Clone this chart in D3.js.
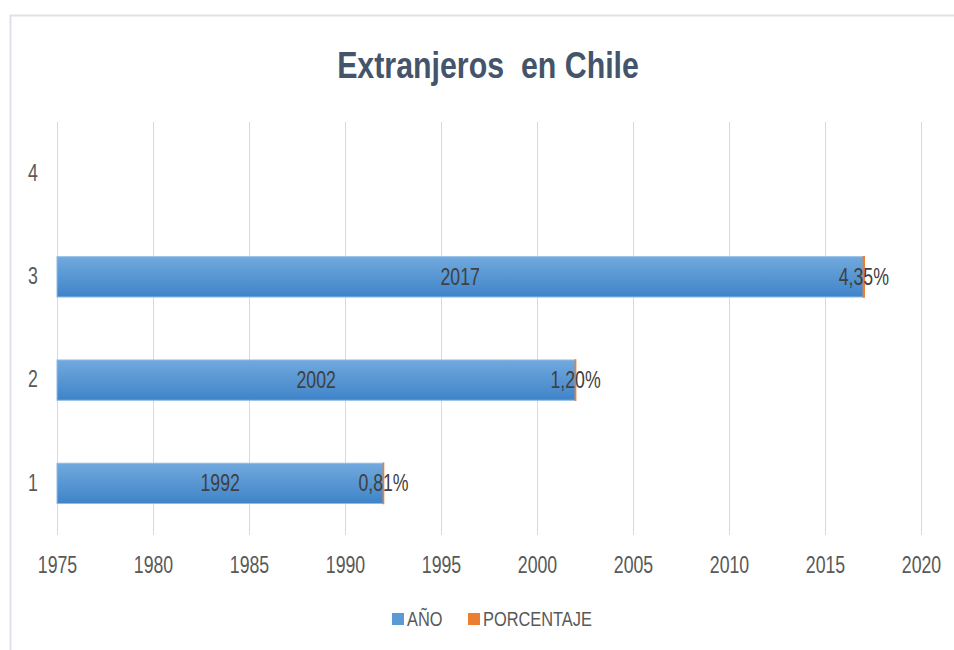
<!DOCTYPE html>
<html>
<head>
<meta charset="utf-8">
<script src="https://cdn.jsdelivr.net/npm/d3@7"></script>
<style>
  body { margin: 0; background: #fff; }
  text { font-family: 'Liberation Sans', Arial, sans-serif; }
</style>
</head>
<body>
<script>
// data
var categories = ['1', '2', '3', '4']
var anio = [1992, 2002, 2017, null]
var porcentaje = [0.0081, 0.012, 0.0435, null]
var seriesNames = ['AÑO', 'PORCENTAJE']
var seriesColors = ['#5b9bd5', '#ed7d31']
var xStart = 1975, xEnd = 2020

var W = 954, H = 650
var margin = { top: 122, right: 33, bottom: 115, left: 57 }
var squeeze = 0.77   // the original font is a condensed one

var svg = d3.select('body').append('svg')
    .attr('width', W)
    .attr('height', H)

// gradient for the blue bars
var grad = svg.append('defs').append('linearGradient')
    .attr('id', 'blueGrad')
    .attr('x1', 0).attr('y1', 0).attr('x2', 0).attr('y2', 1)
grad.append('stop').attr('offset', '0%').attr('stop-color', '#71a9de')
grad.append('stop').attr('offset', '100%').attr('stop-color', '#3f84c8')

// helper: condensed text placed at (x, y)
function condText(sel, x, y, sx) {
    return sel.append('text')
        .attr('transform', `translate(${x}, ${y}) scale(${sx}, 1)`)
}

// chart frame
svg.append('rect')
    .attr('x', 10.5).attr('y', 15.5)
    .attr('width', W + 20).attr('height', H + 20)
    .attr('fill', 'none')
    .attr('stroke', '#dde1e9')
    .attr('stroke-width', 2)

// title
condText(svg, 488, 78, 0.82)
    .attr('text-anchor', 'middle')
    .attr('font-size', 37)
    .attr('font-weight', 'bold')
    .attr('fill', '#44546a')
    .attr('xml:space', 'preserve')
    .text('Extranjeros  en Chile')

// scales
var x = d3.scaleLinear()
    .domain([xStart, xEnd])
    .range([margin.left, W - margin.right])

var y = d3.scaleBand()
    .domain(categories.slice().reverse())
    .range([margin.top, H - margin.bottom])
    .paddingInner(0.61)
    .paddingOuter(0.305)

// vertical gridlines
svg.append('g')
    .selectAll('line')
    .data(x.ticks(9))
    .enter()
    .append('line')
    .attr('x1', d => x(d) + 0.5)
    .attr('x2', d => x(d) + 0.5)
    .attr('y1', margin.top)
    .attr('y2', H - margin.bottom)
    .attr('stroke', '#d9d9d9')
    .attr('stroke-width', 1)

// x axis labels
var xAxis = svg.append('g')
    .attr('transform', `translate(0, ${H - margin.bottom})`)
    .call(d3.axisBottom(x).ticks(9).tickFormat(d3.format('d')).tickSize(0))
xAxis.select('.domain').remove()
xAxis.selectAll('text')
    .attr('y', 0)
    .attr('dy', 0)
    .attr('transform', `translate(0, 38) scale(${squeeze}, 1)`)
    .attr('font-size', 23)
    .attr('font-family', null)
    .attr('fill', '#595959')

// y axis labels
var yAxis = svg.append('g')
    .attr('transform', `translate(33, 0)`)
    .call(d3.axisLeft(y).tickSize(0).tickPadding(0))
yAxis.select('.domain').remove()
yAxis.selectAll('text')
    .attr('x', 0)
    .attr('text-anchor', 'middle')
    .attr('transform', `scale(${squeeze}, 1)`)
    .attr('font-size', 23)
    .attr('font-family', null)
    .attr('fill', '#595959')

// stacked rows
var rows = categories.map((c, i) => ({ cat: c, anio: anio[i], pct: porcentaje[i] }))
    .filter(d => d.anio != null)

var pctFmt = d3.formatLocale({ decimal: ',', thousands: '.', grouping: [3], currency: ['$', ''] }).format('.2%')

var bars = svg.append('g')

bars.selectAll('rect.anio')
    .data(rows)
    .enter()
    .append('rect')
    .attr('class', 'anio')
    .attr('x', x(xStart))
    .attr('y', d => y(d.cat))
    .attr('width', d => x(d.anio) - x(xStart))
    .attr('height', y.bandwidth())
    .attr('fill', 'url(#blueGrad)')
    .attr('stroke', '#8dbbe6')
    .attr('stroke-width', 1)

bars.selectAll('rect.pct')
    .data(rows)
    .enter()
    .append('rect')
    .attr('class', 'pct')
    .attr('x', d => x(d.anio))
    .attr('y', d => y(d.cat))
    .attr('width', d => x(d.anio + d.pct) - x(d.anio))
    .attr('height', y.bandwidth())
    .attr('fill', seriesColors[1])
    .attr('stroke', seriesColors[1])
    .attr('stroke-width', 1.5)

// data labels
rows.forEach(d => {
    var cy = y(d.cat) + y.bandwidth() / 2 + 8
    condText(bars, (x(xStart) + x(d.anio)) / 2, cy, squeeze)
        .attr('text-anchor', 'middle')
        .attr('font-size', 23)
        .attr('fill', '#404040')
        .text(d.anio)
    condText(bars, x(d.anio + d.pct / 2), cy, squeeze)
        .attr('text-anchor', 'middle')
        .attr('font-size', 23)
        .attr('fill', '#404040')
        .text(pctFmt(d.pct))
})

// legend
var legendX = [392, 468]
var legend = svg.append('g')
    .selectAll('g')
    .data(seriesNames)
    .enter()
    .append('g')
    .attr('transform', (d, i) => `translate(${legendX[i]}, 619)`)

legend.append('rect')
    .attr('x', 0).attr('y', -6)
    .attr('width', 12).attr('height', 12)
    .attr('fill', (d, i) => seriesColors[i])

legend.append('text')
    .attr('transform', 'translate(15, 7) scale(0.82, 1)')
    .attr('font-size', 20)
    .attr('fill', '#595959')
    .text(d => d)
</script>
</body>
</html>
